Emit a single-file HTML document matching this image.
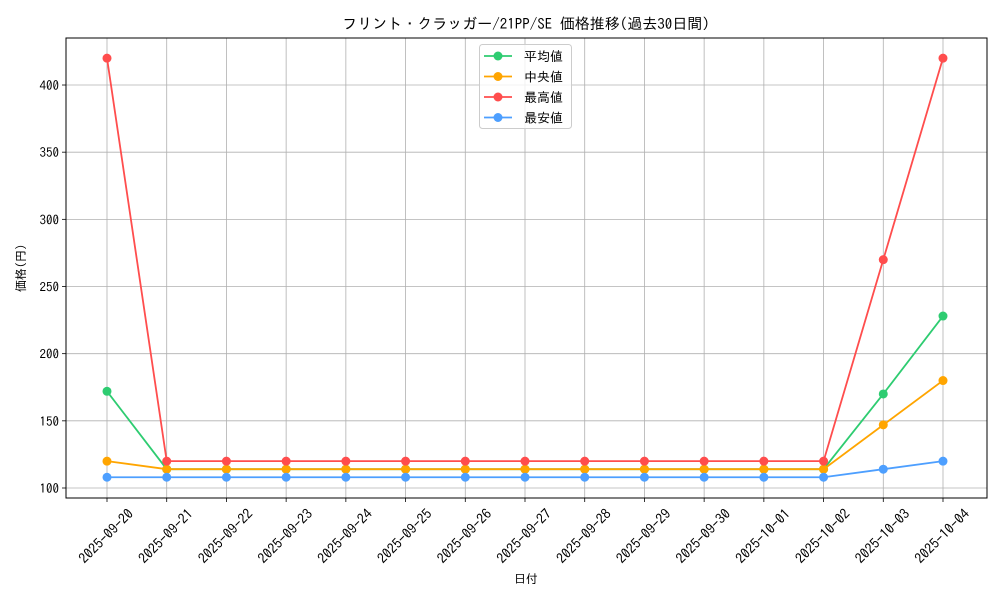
<!DOCTYPE html>
<html><head><meta charset="utf-8"><style>
html,body{margin:0;padding:0;background:#fff;}
svg text{font-family:"IPAGothic","Liberation Sans","Noto Sans CJK JP",sans-serif;fill:#000;}
</style></head><body>
<svg id="s" width="1000" height="600" xmlns="http://www.w3.org/2000/svg"></svg>
<script>
const s=document.getElementById('s');
let h='';
const L=66,R=987,T=38,B=498;
const X=i=>107+59.714*i, Y=v=>488-(v-100)*1.3433;
const dates=["2025-09-20","2025-09-21","2025-09-22","2025-09-23","2025-09-24","2025-09-25","2025-09-26","2025-09-27","2025-09-28","2025-09-29","2025-09-30","2025-10-01","2025-10-02","2025-10-03","2025-10-04"];
dates.forEach((d,i)=>{const x=X(i);h+=`<line x1="${x}" y1="${T}" x2="${x}" y2="${B}" stroke="#b0b0b0" stroke-width="0.8"/>`;
h+=`<line x1="${x}" y1="${B}" x2="${x}" y2="${B+4}" stroke="#000" stroke-width="0.8"/>`;
h+=`<text transform="translate(${x-1},536) rotate(-45)" text-anchor="middle" font-size="14" dominant-baseline="central">${d}</text>`;});
for(let v=100;v<=400;v+=50){const y=Y(v);h+=`<line x1="${L}" y1="${y}" x2="${R}" y2="${y}" stroke="#b0b0b0" stroke-width="0.8"/>`;
h+=`<line x1="${L-4}" y1="${y}" x2="${L}" y2="${y}" stroke="#000" stroke-width="0.8"/>`;
h+=`<text x="${L-7}" y="${y+5}" text-anchor="end" font-size="13">${v}</text>`;}
const ser=[
["#2ecc71",[172,114,114,114,114,114,114,114,114,114,114,114,114,170,228]],
["#ffa500",[120,114,114,114,114,114,114,114,114,114,114,114,114,147,180]],
["#ff4d4d",[420,120,120,120,120,120,120,120,120,120,120,120,120,270,420]],
["#4d9fff",[108,108,108,108,108,108,108,108,108,108,108,108,108,114,120]]];
ser.forEach(([c,d])=>{h+=`<polyline fill="none" stroke="${c}" stroke-width="1.8" points="${d.map((v,i)=>X(i)+','+Y(v)).join(' ')}"/>`;
d.forEach((v,i)=>h+=`<circle cx="${X(i)}" cy="${Y(v)}" r="4.5" fill="${c}"/>`);});
h+=`<rect x="${L}" y="${T}" width="${R-L}" height="${B-T}" fill="none" stroke="#000" stroke-width="1"/>`;
h+=`<rect x="479.5" y="44.5" width="92" height="84" rx="3" fill="#fff" fill-opacity="0.8" stroke="#ccc"/>`;
const names=["平均値","中央値","最高値","最安値"];
ser.forEach(([c],k)=>{const y=56+k*20.5;h+=`<line x1="484" y1="${y}" x2="512" y2="${y}" stroke="${c}" stroke-width="1.8"/><circle cx="498" cy="${y}" r="4.5" fill="${c}"/><text x="524" y="${y+5}" font-size="13">${names[k]}</text>`;});
h+=`<text x="526" y="29" text-anchor="middle" font-size="15">フリント・クラッガー/21PP/SE 価格推移(過去30日間)</text>`;
h+=`<text x="526" y="583" text-anchor="middle" font-size="12">日付</text>`;
h+=`<text transform="translate(25,268) rotate(-90)" text-anchor="middle" font-size="12">価格(円)</text>`;
s.innerHTML=h;
</script>
</body></html>
